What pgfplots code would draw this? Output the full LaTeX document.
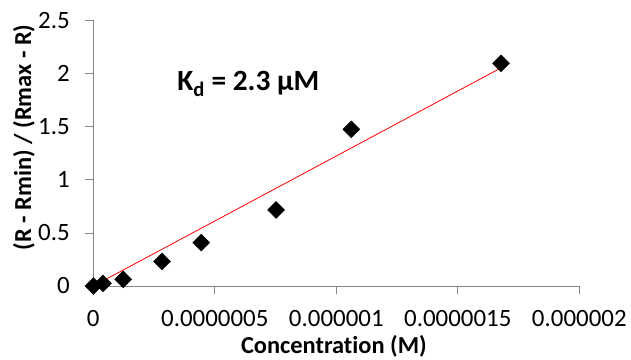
\documentclass[border=0pt]{standalone}
\usepackage{fontspec}
\setmainfont{Carlito}[Ligatures={NoCommon,TeX}, RawFeature={-liga}]
\usepackage{pgfplots}
\pgfplotsset{compat=1.18}
\definecolor{axgray}{RGB}{134,134,134}
\begin{document}
\begin{tikzpicture}
\useasboundingbox (-93.3bp,-74bp) rectangle (537.7bp,286bp);
\begin{axis}[
  anchor=origin,
  at={(0,0)},
  x=243bp/1e-6,
  y=106.2bp,
  scale only axis,
  xmin=0, xmax=2e-6,
  ymin=0, ymax=2.5,
  axis lines*=left,
  axis line style={axgray, line width=0.8bp},
  every tick/.style={axgray, line width=0.8bp},
  tick align=outside,
  major tick length=8bp,
  xtick={0,5e-7,1e-6,1.5e-6,2e-6},
  xticklabels={0,0.0000005,0.000001,0.0000015,0.000002},
  ytick={0,0.5,1,1.5,2,2.5},
  yticklabels={0,0.5,1,1.5,2,2.5},
  scaled x ticks=false,
  scaled y ticks=false,
  tick label style={font=\fontsize{25}{30}\selectfont, black},
  xticklabel style={yshift=-13bp},
  yticklabel style={xshift=-12bp},
  /pgf/number format/assume math mode=true,
  xlabel={\textbf{Concentration (M)}},
  ylabel={\textbf{(R - Rmin) / (Rmax - R)}},
  label style={font=\fontsize{24.5}{28}\selectfont},
  xlabel style={at={(axis description cs:0.495,-0.2535)}, anchor=base},
  ylabel style={at={(axis description cs:-0.1426,0.56)}, anchor=center},
  clip=false,
]
\addplot[red, line width=0.8bp, no marks] coordinates {(0,0) (1.678e-6,2.054)};
\addplot[only marks, mark=square*, mark size=6bp, mark options={rotate=45, fill=black, draw=black}] coordinates {
(0,0)
(4e-8,0.025)
(1.23e-7,0.063)
(2.83e-7,0.232)
(4.44e-7,0.408)
(7.52e-7,0.716)
(1.062e-6,1.475)
(1.678e-6,2.097)
};
\node[anchor=base, font=\fontsize{29.5}{34}\selectfont\bfseries] at (axis cs:6.38e-7,1.839) {K\textsubscript{d} = 2.3 µM};
\end{axis}
\end{tikzpicture}
\end{document}
